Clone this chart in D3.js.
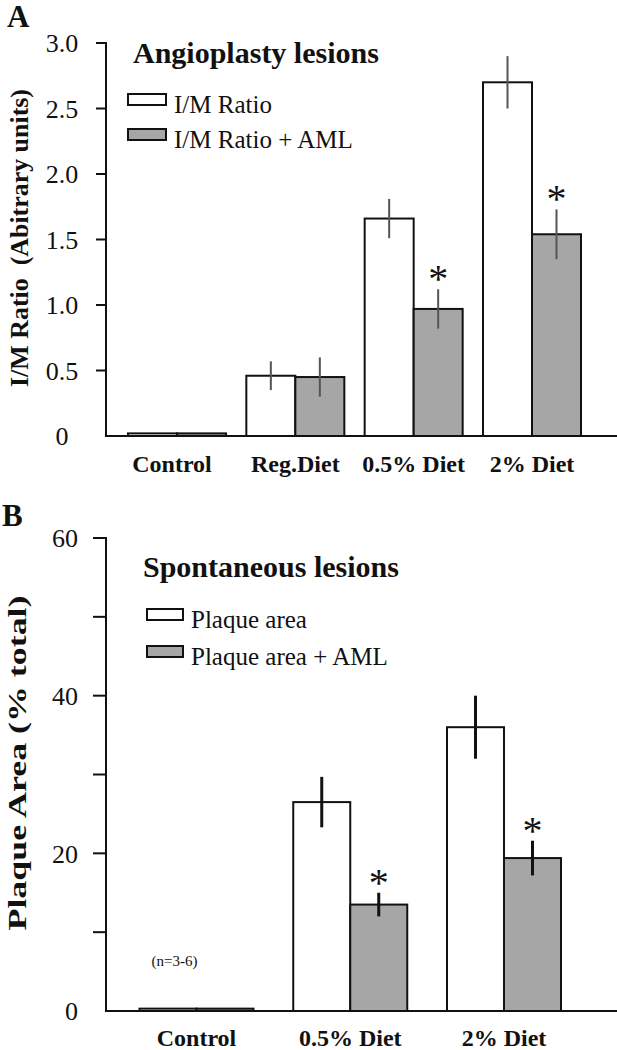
<!DOCTYPE html>
<html>
<head>
<meta charset="utf-8">
<script src="https://cdn.jsdelivr.net/npm/d3@7"></script>
<style>
  html, body { margin: 0; padding: 0; background: #fff; }
  svg { display: block; }
  text { font-family: "Liberation Serif", "Times New Roman", "DejaVu Serif", serif; fill: #111; }
</style>
</head>
<body>
<script>
// ---------- Panel A data ----------
const categoriesA = ["Control", "Reg.Diet", "0.5% Diet", "2% Diet"];
const imRatio = [0.02, 0.46, 1.66, 2.70];
const imRatioErr = [0, 0.11, 0.15, 0.20];
const imRatioAML = [0.02, 0.45, 0.97, 1.54];
const imRatioAMLErr = [0, 0.15, 0.15, 0.19];
const sigA = [false, false, true, true];
const yTicksA = [0, 0.5, 1.0, 1.5, 2.0, 2.5, 3.0];
const seriesNamesA = ["I/M Ratio", "I/M Ratio + AML"];

// ---------- Panel B data ----------
const categoriesB = ["Control", "0.5% Diet", "2% Diet"];
const plaque = [0.3, 26.5, 36.0];
const plaqueErr = [0, 3.2, 4.0];
const plaqueAML = [0.3, 13.5, 19.4];
const plaqueAMLErr = [0, 1.5, 2.2];
const sigB = [false, true, true];
const yTicksB = [0, 10, 20, 30, 40, 50, 60];
const yLabelsB = [0, 20, 40, 60];
const seriesNamesB = ["Plaque area", "Plaque area + AML"];

const W = 617, H = 1050;
const svg = d3.select("body").append("svg").attr("width", W).attr("height", H);
const GRAY = "#a6a6a6";

function panel(o) {
  const g = svg.append("g");
  const y = d3.scaleLinear().domain(o.domain).range([o.y0, o.y1]);
  const x = d3.scalePoint().domain(o.cats).range(o.xRange);
  const bw = o.bw;

  const rows = o.cats.map((c, i) => ({c, i}));
  const series = [
    {vals: o.s1, errs: o.e1, fill: "#fff", off: -bw},
    {vals: o.s2, errs: o.e2, fill: GRAY, off: 0}
  ];
  series.forEach(s => {
    g.selectAll(null).data(rows).join("rect")
      .attr("x", d => x(d.c) + s.off)
      .attr("y", d => y(s.vals[d.i]))
      .attr("width", bw)
      .attr("height", d => y(0) - y(s.vals[d.i]))
      .attr("fill", s.fill).attr("stroke", "#111").attr("stroke-width", 2);
    g.selectAll(null).data(rows.filter(d => s.errs[d.i] > 0)).join("line")
      .attr("x1", d => x(d.c) + s.off + bw / 2)
      .attr("x2", d => x(d.c) + s.off + bw / 2)
      .attr("y1", d => y(s.vals[d.i] + s.errs[d.i]))
      .attr("y2", d => y(s.vals[d.i] - s.errs[d.i]))
      .attr("stroke", o.errColor).attr("stroke-width", o.errWidth);
  });
  // significance asterisks
  g.selectAll(null).data(rows.filter(d => o.sig[d.i])).join("text")
    .attr("x", d => x(d.c) + bw / 2)
    .attr("y", d => y(o.s2[d.i] + o.e2[d.i]) + 3)
    .attr("text-anchor", "middle")
    .attr("font-size", 40)
    .text("*");

  // axis line + baseline
  g.append("line").attr("x1", o.axisX).attr("x2", o.axisX)
    .attr("y1", y(o.domain[1]) - 1).attr("y2", y(0))
    .attr("stroke", "#111").attr("stroke-width", 2);
  g.append("line").attr("x1", o.axisX - 1).attr("x2", W)
    .attr("y1", y(0)).attr("y2", y(0))
    .attr("stroke", "#111").attr("stroke-width", 2);
  g.selectAll(null).data(o.ticks.filter(t => t !== 0)).join("line")
    .attr("x1", o.axisX - o.tickLen).attr("x2", o.axisX)
    .attr("y1", d => y(d)).attr("y2", d => y(d))
    .attr("stroke", "#111").attr("stroke-width", 2);
  g.selectAll(null).data(o.tickLabels).join("text")
    .attr("x", o.labelX).attr("y", d => y(d))
    .attr("dy", "0.36em")
    .attr("text-anchor", o.labelAnchor)
    .attr("font-size", 26)
    .text(o.fmt);

  // category labels
  g.selectAll(null).data(o.cats).join("text")
    .attr("x", d => x(d) + (o.catShift[d] || 0)).attr("y", y(0) + o.catDy)
    .attr("text-anchor", "middle")
    .attr("font-size", 24).attr("font-weight", "bold")
    .text(d => d);

  // y title
  g.append("text")
    .attr("transform", `translate(${o.yTitleX},${o.yTitleY}) rotate(-90)`)
    .attr("text-anchor", "middle")
    .attr("font-size", o.yTitleSize).attr("font-weight", "bold")
    .attr("textLength", o.yTitleLen).attr("lengthAdjust", "spacingAndGlyphs")
    .attr("xml:space", "preserve")
    .text(o.yTitle);

  // title
  g.append("text").attr("x", o.titleX).attr("y", o.titleY)
    .attr("font-size", 30).attr("font-weight", "bold").text(o.title);

  // legend
  const fills = ["#fff", GRAY];
  o.names.forEach((n, i) => {
    g.append("rect").attr("x", o.legX).attr("y", o.legY + i * o.legStep)
      .attr("width", o.legW).attr("height", 11)
      .attr("fill", fills[i]).attr("stroke", "#111").attr("stroke-width", 2);
    g.append("text").attr("x", o.legX + o.legW + 8).attr("y", o.legY + i * o.legStep + 19)
      .attr("font-size", 25).text(n);
  });

  // panel letter
  g.append("text").attr("x", o.letterX).attr("y", o.letterY)
    .attr("font-size", 31).attr("font-weight", "bold").text(o.letter);
  return {x, y, g};
}

panel({
  cats: categoriesA, s1: imRatio, e1: imRatioErr, s2: imRatioAML, e2: imRatioAMLErr, sig: sigA,
  domain: [0, 3], y0: 436, y1: 43, xRange: [177, 532], bw: 49,
  errColor: "#555", errWidth: 2,
  axisX: 106, tickLen: 10, ticks: yTicksA, tickLabels: yTicksA,
  labelX: 62, labelAnchor: "middle", fmt: d => d === 0 ? "0" : d3.format(".1f")(d),
  catDy: 36, catShift: {"Control": -5},
  yTitle: "I/M Ratio  (Abitrary units)", yTitleX: 28, yTitleY: 238, yTitleSize: 26, yTitleLen: 298,
  title: "Angioplasty lesions", titleX: 133, titleY: 63,
  names: seriesNamesA, legX: 128, legY: 94, legStep: 35, legW: 38,
  letter: "A", letterX: 7, letterY: 27
});

const pB = panel({
  cats: categoriesB, s1: plaque, e1: plaqueErr, s2: plaqueAML, e2: plaqueAMLErr, sig: sigB,
  domain: [0, 60], y0: 1011, y1: 538, xRange: [196.5, 504], bw: 57,
  errColor: "#111", errWidth: 3,
  axisX: 106, tickLen: 13, ticks: yTicksB, tickLabels: yLabelsB,
  labelX: 78, labelAnchor: "end", fmt: d => String(d),
  catDy: 35, catShift: {},
  yTitle: "Plaque Area (% total)", yTitleX: 26, yTitleY: 763, yTitleSize: 25, yTitleLen: 335,
  title: "Spontaneous lesions", titleX: 143, titleY: 577,
  names: seriesNamesB, legX: 147, legY: 609, legStep: 37, legW: 36,
  letter: "B", letterX: 2, letterY: 526
});

// sample-size note
pB.g.append("text").attr("x", pB.x("Control") - 22).attr("y", 966)
  .attr("text-anchor", "middle").attr("font-size", 15).text("(n=3-6)");
</script>
</body>
</html>
